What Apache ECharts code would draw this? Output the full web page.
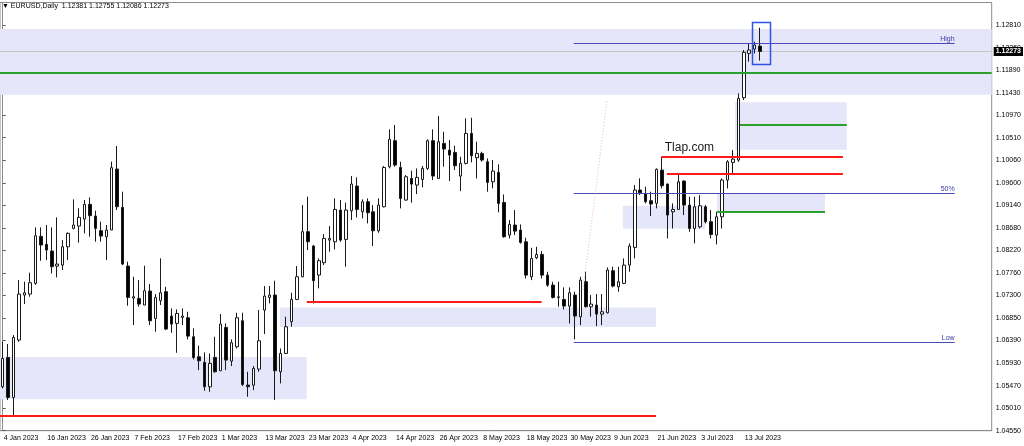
<!DOCTYPE html>
<html lang="en">
<head>
<meta charset="UTF-8">
<title>EURUSD Daily</title>
<script src="https://cdn.jsdelivr.net/npm/echarts@6/dist/echarts.min.js"></script>
<style>
    html, body { margin: 0; padding: 0; background: #fff; }
    #main { width: 1024px; height: 446px; }
</style>
</head>
<body>
<div id="main"></div>
<script>
    // trading days per month (2023)
    var janDays = [4,5,6,9,10,11,12,13,16,17,18,19,20,23,24,25,26,27,30,31];
    var febDays = [1,2,3,6,7,8,9,10,13,14,15,16,17,20,21,22,23,24,27,28];
    var marDays = [1,2,3,6,7,8,9,10,13,14,15,16,17,20,21,22,23,24,27,28,29,30,31];
    var aprDays = [3,4,5,6,7,10,11,12,13,14,17,18,19,20,21,24,25,26,27,28];
    var mayDays = [1,2,3,4,5,8,9,10,11,12,15,16,17,18,19,22,23,24,25,26,29,30,31];
    var junDays = [1,2,5,6,7,8,9,12,13,14,15,16,19,20,21,22,23,26,27,28,29,30];
    var julDays = [3,4,5,6,7,10,11,12,13,14,17,18];

    // [open, high, low, close]
    var janBars = [
        [1.05444,1.06361,1.05410,1.06022],[1.06042,1.06314,1.05173,1.05227],[1.05227,1.06497,1.04833,1.06449],
        [1.06395,1.07617,1.06360,1.07332],[1.07312,1.07583,1.07128,1.07359],[1.07332,1.07767,1.07278,1.07563],
        [1.07549,1.08690,1.07520,1.08520],[1.08507,1.08690,1.08011,1.08330],[1.08344,1.08738,1.08025,1.08228],
        [1.08208,1.08690,1.07753,1.07889],[1.07902,1.08894,1.07671,1.07943],[1.07923,1.08432,1.07821,1.08296],
        [1.08296,1.08588,1.08025,1.08568],[1.08670,1.09260,1.08649,1.08738],[1.08717,1.09077,1.08378,1.08894],
        [1.08860,1.09247,1.08568,1.09159],[1.09159,1.09301,1.08500,1.08928],[1.08921,1.09030,1.08398,1.08670],
        [1.08622,1.08805,1.08398,1.08513],[1.08500,1.08738,1.08025,1.08636]
    ];
    var febBars = [
        [1.08636,1.10028,1.08636,1.09905],[1.09878,1.10347,1.09043,1.09111],[1.09097,1.09417,1.07920,1.07943],
        [1.07902,1.07991,1.07094,1.07264],[1.07251,1.07685,1.06701,1.07278],[1.07244,1.07617,1.07074,1.07128],
        [1.07108,1.07909,1.07108,1.07400],[1.07393,1.07536,1.06701,1.06789],[1.06836,1.07332,1.06565,1.07264],
        [1.07196,1.08059,1.07108,1.07359],[1.07380,1.07481,1.06599,1.06619],[1.06884,1.07040,1.06544,1.06721],
        [1.06735,1.07020,1.06137,1.06938],[1.06857,1.07040,1.06701,1.06884],[1.06850,1.06972,1.06409,1.06476],
        [1.06463,1.06633,1.06001,1.06042],[1.06056,1.06280,1.05784,1.05974],[1.05940,1.06144,1.05363,1.05444],
        [1.05444,1.06123,1.05343,1.05920],[1.06042,1.06463,1.05730,1.05750]
    ];
    var marBars = [
        [1.05770,1.06925,1.05770,1.06721],[1.06653,1.06735,1.05784,1.05988],[1.05967,1.06409,1.05866,1.06341],
        [1.06259,1.06952,1.06225,1.06850],[1.06789,1.06952,1.05458,1.05492],[1.05478,1.05750,1.05241,1.05445],
        [1.05478,1.05866,1.05377,1.05818],[1.05804,1.07006,1.05750,1.06381],[1.07006,1.07495,1.06517,1.07291],
        [1.07264,1.07495,1.07142,1.07312],[1.07312,1.07604,1.05173,1.05771],[1.05750,1.06225,1.05513,1.06123],
        [1.06123,1.06870,1.06110,1.06667],[1.06769,1.07359,1.06667,1.07223],[1.07223,1.07902,1.07210,1.07685],
        [1.07685,1.09145,1.07672,1.08602],[1.08602,1.09315,1.08228,1.08398],[1.08310,1.08330,1.07142,1.07604],
        [1.07719,1.08059,1.07448,1.08011],[1.07970,1.08554,1.07923,1.08466],[1.08431,1.08716,1.08194,1.08465],
        [1.08397,1.09280,1.08241,1.09056],[1.09042,1.09246,1.08397,1.08431]
    ];
    var aprBars = [
        [1.08445,1.09192,1.07888,1.09042],[1.09029,1.09735,1.08839,1.09572],[1.09531,1.09708,1.08893,1.09056],
        [1.09008,1.09260,1.08873,1.09212],[1.09212,1.09280,1.08771,1.08988],[1.09008,1.09144,1.08309,1.08621],
        [1.08621,1.09280,1.08581,1.09144],[1.09110,1.09939,1.09097,1.09911],[1.09925,1.10686,1.09891,1.10482],
        [1.10455,1.10774,1.09925,1.09959],[1.09911,1.10027,1.09076,1.09280],[1.09246,1.09755,1.09232,1.09721],
        [1.09687,1.09843,1.09192,1.09572],[1.09552,1.09891,1.09368,1.09708],[1.09667,1.09939,1.09504,1.09891],
        [1.09891,1.10482,1.09857,1.10455],[1.10455,1.10686,1.09653,1.09735],[1.09687,1.10957,1.09687,1.10434],
        [1.10400,1.10638,1.09925,1.10285],[1.10264,1.10468,1.09633,1.10162]
    ];
    var mayBars = [
        [1.10217,1.10353,1.09857,1.09945],[1.09735,1.10129,1.09429,1.09993],[1.09993,1.10909,1.09972,1.10604],
        [1.10604,1.10923,1.10013,1.10149],[1.10108,1.10434,1.09687,1.10196],[1.10196,1.10230,1.10027,1.10061],
        [1.10027,1.10095,1.09416,1.09606],[1.09619,1.10061,1.09484,1.09837],[1.09809,1.09972,1.08995,1.09178],
        [1.09198,1.09361,1.08479,1.08499],[1.08533,1.08838,1.08465,1.08750],[1.08737,1.09042,1.08533,1.08614],
        [1.08635,1.08750,1.08360,1.08384],[1.08397,1.08479,1.07650,1.07718],[1.07684,1.08275,1.07616,1.08058],
        [1.08071,1.08295,1.08044,1.08139],[1.08139,1.08207,1.07650,1.07718],[1.07718,1.07786,1.07480,1.07514],
        [1.07515,1.07583,1.07243,1.07264],[1.07264,1.07583,1.07074,1.07277],[1.07223,1.07468,1.07019,1.07087],
        [1.07087,1.07468,1.06734,1.07359],[1.07311,1.07379,1.06408,1.06884]
    ];
    var junBars = [
        [1.06870,1.07685,1.06700,1.07617],[1.07583,1.07787,1.07060,1.07074],[1.07074,1.07311,1.06870,1.07128],
        [1.07108,1.07332,1.06680,1.06924],[1.06924,1.07332,1.06700,1.06972],[1.06951,1.07875,1.06938,1.07821],
        [1.07807,1.07889,1.07468,1.07495],[1.07481,1.07889,1.07379,1.07583],[1.07549,1.08058,1.07535,1.07922],
        [1.07922,1.08364,1.07787,1.08310],[1.08282,1.09552,1.08058,1.09450],[1.09450,1.09688,1.09348,1.09396],
        [1.09382,1.09518,1.09179,1.09213],[1.09233,1.09416,1.08921,1.09165],[1.09179,1.09892,1.09077,1.09871],
        [1.09857,1.10128,1.09483,1.09538],[1.09571,1.09585,1.08465,1.08940],[1.09008,1.09178,1.08668,1.09055],
        [1.09055,1.09768,1.09042,1.09619],[1.09633,1.09650,1.08940,1.09144],[1.09144,1.09314,1.08600,1.08668],
        [1.08668,1.09314,1.08363,1.09110]
    ];
    var julBars = [
        [1.08702,1.09347,1.08668,1.09130],[1.09110,1.09144,1.08770,1.08804],[1.08804,1.09042,1.08465,1.08546],
        [1.08533,1.09008,1.08343,1.08906],[1.08906,1.09687,1.08668,1.09653],[1.09653,1.10060,1.09483,1.10026],
        [1.10013,1.10264,1.09789,1.10081],[1.10060,1.11418,1.10026,1.11317],[1.11330,1.12301,1.11283,1.12254],
        [1.12233,1.12437,1.12063,1.12301],[1.12321,1.12471,1.12233,1.12403],[1.12381,1.12755,1.12086,1.12273]
    ];

    // right price scale
    var yTicks = ['1.04550','1.05010','1.05470','1.05930','1.06390','1.06850','1.07300','1.07760','1.08220',
        '1.08680','1.09140','1.09600','1.10060','1.10510','1.10970','1.11430','1.11890','1.12350','1.12810'];
    var yMin = 1.04550, yTop = 1.12810;

    // chart objects, x in bar numbers, y in price
    var zones = [            // [fromBar, toBar, upper, lower]
        [-0.5, 181.5, 1.1273, 1.1139],
        [134.4, 154.9, 1.1124, 1.1027],
        [113.8, 128.9, 1.0913, 1.0866],
        [131.1, 150.9, 1.0938, 1.0901],
        [50.9, 119.9, 1.0706, 1.0666],
        [-0.5, 55.8, 1.0605, 1.0519]
    ];
    var greenLevels = [      // [fromBar, toBar, price]
        [-0.5, 181.5, 1.1184],
        [135.3, 154.9, 1.1077],
        [131.1, 150.9, 1.0901]
    ];
    var redLevels = [
        [120.9, 154.2, 1.1012],
        [121.9, 154.2, 1.0978],
        [55.8, 98.9, 1.0718],
        [-0.5, 119.9, 1.0485]
    ];
    var fibNames = ['High', '50%', 'Low'];
    var fibLevels = [[104.8, 174.7, 1.1244], [104.8, 174.7, 1.0940], [104.8, 174.7, 1.0636]];
    var markBox = [[137.5, 140.8, 1.1288, 1.1203]];
    var trendLine = [[106.5, 110.9, 1.0742, 1.1128]];
    var siteText = [[121.5, 1.1032]];
    var siteName = 'Tlap.com';
    var symbolTitle = 'EURUSD,Daily';

    var dates = [];
    var bars = [];
    function addMonth(days, rows, mon) {
        for (var i = 0; i < days.length; i++) {
            dates.push(days[i] + ' ' + mon + ' 2023');
            bars.push(rows[i]);
        }
    }
    addMonth(janDays, janBars, 'Jan');
    addMonth(febDays, febBars, 'Feb');
    addMonth(marDays, marBars, 'Mar');
    addMonth(aprDays, aprBars, 'Apr');
    addMonth(mayDays, mayBars, 'May');
    addMonth(junDays, junBars, 'Jun');
    addMonth(julDays, julBars, 'Jul');

    var totalSlots = 182;
    var cats = dates.slice();
    for (var k = dates.length; k < totalSlots; k++) cats.push('slot' + k);

    var candleData = bars.map(function (b) { return [b[0], b[3], b[2], b[1]]; });
    var last = bars[bars.length - 1];
    var bidLine = [[0, last[3]]];
    var yStep = (yTop - yMin) / (yTicks.length - 1);

    function showDate(index) { return index < dates.length && index % 8 === 0; }
    function px(v) { return Math.round(v) + 0.5; }

    var myChart = echarts.init(document.getElementById('main'));
    var option = {
        animation: false,
        backgroundColor: '#fff',
        textStyle: { fontFamily: 'Liberation Sans' },
        graphic: [{
            type: 'text', left: 2, top: 3,
            style: {
                text: '\u25BC ' + symbolTitle + '  ' + last.map(function (v) { return v.toFixed(5); }).join(' '),
                fontSize: 7, fill: '#000', fontFamily: 'Liberation Sans'
            }
        }],
        grid: {
            left: 0, right: 32, top: 2.5, bottom: 15.3,
            show: true, borderColor: '#8c8c8c', borderWidth: 1
        },
        xAxis: [{
            type: 'category',
            data: cats,
            boundaryGap: true,
            axisLine: { lineStyle: { color: '#8c8c8c' } },
            axisTick: { alignWithLabel: true, interval: showDate, length: 3, lineStyle: { color: '#555' } },
            axisLabel: {
                interval: showDate, align: 'left', fontSize: 7, color: '#000', margin: 4,
                padding: [0, 0, 0, 1]
            },
            splitLine: { show: false }
        }, {
            type: 'value', min: -0.5, max: totalSlots - 0.5, show: false
        }],
        yAxis: {
            type: 'value',
            position: 'right',
            min: yMin,
            max: yMin + yStep * yTicks.length,
            interval: yStep,
            axisLine: { show: true, lineStyle: { color: '#8c8c8c' } },
            axisTick: { show: true, length: 3, lineStyle: { color: '#555' } },
            axisLabel: {
                fontSize: 7, color: '#000', margin: 4, showMaxLabel: false,
                formatter: function (v) { return yTicks[Math.round((v - yMin) / yStep)] || ''; }
            },
            splitLine: { show: false }
        },
        series: [{
            type: 'custom',
            xAxisIndex: 1,
            z: 1,
            data: zones,
            renderItem: function (params, api) {
                var a = api.coord([api.value(0), api.value(2)]);
                var b = api.coord([api.value(1), api.value(3)]);
                return { type: 'rect', shape: { x: a[0], y: a[1], width: b[0] - a[0], height: b[1] - a[1] },
                    style: { fill: '#e6e6fa' } };
            }
        }, {
            // bid line with its price box on the scale
            type: 'custom',
            xAxisIndex: 1,
            z: 2,
            data: bidLine,
            renderItem: function (params, api) {
                var cs = params.coordSys;
                var y = px(api.coord([api.value(0), api.value(1)])[1]);
                return { type: 'group', children: [
                    { type: 'line', shape: { x1: cs.x, y1: y, x2: cs.x + cs.width, y2: y },
                        style: { stroke: '#c4c4c4', lineWidth: 1 } },
                    { type: 'text', x: cs.x + cs.width + 2, y: y, z2: 10,
                        style: { text: api.value(1).toFixed(5), verticalAlign: 'middle', fontSize: 7,
                            fontWeight: 'bold', fill: '#fff', backgroundColor: '#000', padding: [1, 2, 1, 2],
                            fontFamily: 'Liberation Sans' } }
                ] };
            }
        }, {
            type: 'candlestick',
            z: 3,
            data: candleData,
            barWidth: 3,
            itemStyle: { color: '#fff', color0: '#000', borderColor: '#1a1a1a', borderColor0: '#1a1a1a', borderWidth: 1 }
        }, {
            type: 'custom',
            xAxisIndex: 1,
            z: 4,
            data: greenLevels,
            renderItem: function (params, api) {
                var a = api.coord([api.value(0), api.value(2)]);
                var b = api.coord([api.value(1), api.value(2)]);
                var y = Math.round(a[1]);
                return { type: 'line', shape: { x1: a[0], y1: y, x2: b[0], y2: y },
                    style: { stroke: '#2ca02c', lineWidth: 2 } };
            }
        }, {
            type: 'custom',
            xAxisIndex: 1,
            z: 4,
            data: redLevels,
            renderItem: function (params, api) {
                var a = api.coord([api.value(0), api.value(2)]);
                var b = api.coord([api.value(1), api.value(2)]);
                var y = Math.round(a[1]);
                return { type: 'line', shape: { x1: a[0], y1: y, x2: b[0], y2: y },
                    style: { stroke: '#ff1a1a', lineWidth: 2 } };
            }
        }, {
            type: 'custom',
            xAxisIndex: 1,
            z: 4,
            data: fibLevels,
            renderItem: function (params, api) {
                var a = api.coord([api.value(0), api.value(2)]);
                var b = api.coord([api.value(1), api.value(2)]);
                var y = px(a[1]);
                return { type: 'group', children: [
                    { type: 'line', shape: { x1: a[0], y1: y, x2: b[0], y2: y },
                        style: { stroke: '#4a4ab4', lineWidth: 1 } },
                    { type: 'text', x: b[0], y: y - 1,
                        style: { text: fibNames[params.dataIndex], align: 'right', verticalAlign: 'bottom',
                            fontSize: 7, fill: '#3a3aa8', fontFamily: 'Liberation Sans' } }
                ] };
            }
        }, {
            type: 'custom',
            xAxisIndex: 1,
            z: 4,
            data: trendLine,
            renderItem: function (params, api) {
                var a = api.coord([api.value(0), api.value(2)]);
                var b = api.coord([api.value(1), api.value(3)]);
                return { type: 'line', shape: { x1: a[0], y1: a[1], x2: b[0], y2: b[1] },
                    style: { stroke: '#f2b8b8', lineWidth: 1, lineDash: [1, 2] } };
            }
        }, {
            type: 'custom',
            xAxisIndex: 1,
            z: 5,
            data: markBox,
            renderItem: function (params, api) {
                var a = api.coord([api.value(0), api.value(2)]);
                var b = api.coord([api.value(1), api.value(3)]);
                return { type: 'rect', shape: { x: px(a[0]), y: px(a[1]), width: Math.round(b[0] - a[0]), height: Math.round(b[1] - a[1]) },
                    style: { fill: 'none', stroke: '#2f55e6', lineWidth: 1.5 } };
            }
        }, {
            type: 'custom',
            xAxisIndex: 1,
            z: 5,
            data: siteText,
            renderItem: function (params, api) {
                var a = api.coord([api.value(0), api.value(1)]);
                return { type: 'text', x: a[0], y: a[1],
                    style: { text: siteName, align: 'left', verticalAlign: 'middle', fontSize: 12,
                        fill: '#1a1a1a', fontFamily: 'Liberation Sans' } };
            }
        }]
    };
    myChart.setOption(option);
</script>
</body>
</html>
